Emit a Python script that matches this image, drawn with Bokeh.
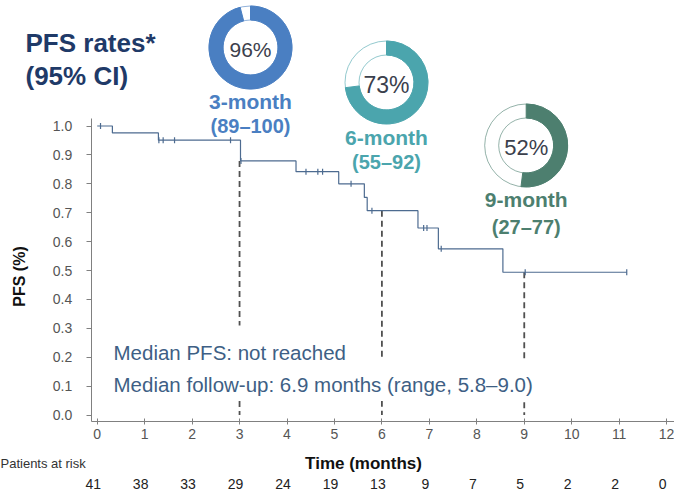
import numpy as np
from bokeh.plotting import figure
from bokeh.models import (ColumnDataSource, LinearAxis, FixedTicker,
                          PrintfTickFormatter, Label, Range1d)
from bokeh.core.properties import value
from bokeh.embed import file_html
from bokeh.resources import INLINE

# ---------------- data ----------------
step_times = [0.0, 0.32, 1.29, 3.02, 4.19, 5.09, 5.63, 5.69, 6.76, 7.19, 8.55]
step_surv = [1.0, 0.976, 0.951, 0.879, 0.842, 0.800, 0.753, 0.707, 0.647, 0.575, 0.494]
last_followup = 11.16
censor_times = [0.07, 1.30, 1.39, 1.63, 2.81, 3.03, 4.40, 4.65, 4.75, 5.35,
                5.79, 6.88, 6.95, 7.25, 9.02, 11.16]

milestone_months = [3, 6, 9]
milestone_curve = [0.879, 0.707, 0.494]
milestone_rate = [96, 73, 52]
milestone_names = ["3-month", "6-month", "9-month"]
milestone_ci = ["(89\u2013100)", "(55\u201392)", "(27\u201377)"]
milestone_colors = ["#4a7fc2", "#4ba5ad", "#4d7f6f"]

x_ticks = list(range(13))
y_ticks = [0.0, 0.1, 0.2, 0.3, 0.4, 0.5, 0.6, 0.7, 0.8, 0.9, 1.0]
at_risk = [41, 38, 33, 29, 24, 19, 13, 9, 7, 5, 2, 2, 0]

# ---------------- layout helpers (canvas px -> data) ----------------
W, H = 674, 492
X0_PX, XS = 96.7, 47.45
Y0_PX, YS = 414.5, 289.0

def tx(px):
    return (px - X0_PX) / XS

def vy(py):
    return (Y0_PX - py) / YS

FONT = value("Liberation Sans")

p = figure(width=W, height=H, output_backend="svg", toolbar_location=None,
           tools="", x_axis_location=None, y_axis_location=None,
           x_range=Range1d(tx(0), tx(W)), y_range=Range1d(vy(H), vy(0)),
           min_border=0, outline_line_color=None)
p.xgrid.visible = False
p.ygrid.visible = False
p.background_fill_color = "white"
p.border_fill_color = "white"

# axes at fixed locations
yaxis = LinearAxis(fixed_location=tx(90.7), bounds=(vy(420.7), vy(118)),
                   ticker=FixedTicker(ticks=y_ticks),
                   formatter=PrintfTickFormatter(format="%.1f"))
yaxis.axis_line_color = "#808080"
yaxis.major_tick_line_color = "#808080"
yaxis.major_tick_in = 0
yaxis.major_tick_out = 5
yaxis.minor_tick_line_color = None
yaxis.major_label_standoff = 14
yaxis.major_label_text_font = "Liberation Sans"
yaxis.major_label_text_font_size = "14px"
yaxis.major_label_text_color = "#555555"
p.add_layout(yaxis, "left")

xaxis = LinearAxis(fixed_location=vy(420.7), bounds=(tx(90.7), tx(674)),
                   ticker=FixedTicker(ticks=x_ticks))
xaxis.axis_line_color = "#808080"
xaxis.major_tick_line_color = "#808080"
xaxis.major_tick_in = 3
xaxis.major_tick_out = 3
xaxis.minor_tick_line_color = None
xaxis.major_label_standoff = 5
xaxis.major_label_text_font = "Liberation Sans"
xaxis.major_label_text_font_size = "14px"
xaxis.major_label_text_color = "#555555"
p.add_layout(xaxis, "below")

# dashed milestone lines
p.segment(x0=milestone_months, y0=milestone_curve, x1=milestone_months,
          y1=[0.0] * len(milestone_months), line_color="#505050",
          line_width=1.8, line_dash="6 4")

# KM curve
curve_color = "#4d6b90"
xs = step_times + [last_followup]
ys = step_surv + [step_surv[-1]]
p.step(xs, ys, mode="after", line_color=curve_color, line_width=1.2)
idx = np.searchsorted(np.array(step_times), np.array(censor_times), side="right") - 1
censor_surv = [step_surv[i] for i in idx]
p.scatter(censor_times, censor_surv, marker="dash", angle=np.pi / 2, size=6,
          line_color=curve_color, line_width=1.2)

# donuts
donut_src = ColumnDataSource(dict(
    x=[tx(250), tx(386), tx(525.7)],
    y=[vy(47), vy(82), vy(145)],
    ly=[vy(101), vy(137), vy(199)],
    cy=[vy(125), vy(161), vy(226)],
    end=[np.pi / 2 - 2 * np.pi * r / 100 for r in milestone_rate],
    color=milestone_colors,
    pct=[f"{r}%" for r in milestone_rate],
    name=milestone_names,
    ci=milestone_ci,
    pct_size=["21px", "23px", "22px"],
))
p.annulus(x="x", y="y", inner_radius=27.5, outer_radius=41.5,
          inner_radius_units="screen", outer_radius_units="screen",
          fill_color="white", line_color="color", line_width=1, line_alpha=0.6,
          source=donut_src)
p.annular_wedge(x="x", y="y", inner_radius=27.5, outer_radius=41.5,
                inner_radius_units="screen", outer_radius_units="screen",
                start_angle=np.pi / 2, end_angle="end", direction="clock",
                fill_color="color", line_color="color", line_width=1,
                source=donut_src)
p.text(x="x", y="y", text="pct", text_font=FONT, text_font_size="pct_size",
       text_color="#3b404c", text_align="center", text_baseline="middle",
       y_offset=2, source=donut_src)
p.text(x="x", y="ly", text="name", text_font=FONT, text_font_size="21px",
       text_font_style="bold", text_color="color", text_align="center",
       text_baseline="middle", source=donut_src)
p.text(x="x", y="cy", text="ci", text_font=FONT, text_font_size="20px",
       text_font_style="bold", text_color="color", text_align="center",
       text_baseline="middle", source=donut_src)

# title
p.text(x=[tx(25), tx(25)], y=[vy(42), vy(75)], text=["PFS rates*", "(95% CI)"],
       text_font=FONT, text_font_size="26px", text_font_style="bold",
       text_color="#1f3a68", text_align="left", text_baseline="alphabetic")

# axis titles
p.text(x=[tx(19)], y=[vy(276)], text=["PFS (%)"], angle=np.pi / 2,
       text_font=FONT, text_font_size="16px", text_font_style="bold",
       text_color="#111111", text_align="center", text_baseline="middle")
p.text(x=[tx(363)], y=[vy(463)], text=["Time (months)"], text_font=FONT,
       text_font_size="17px", text_font_style="bold", text_color="#111111",
       text_align="center", text_baseline="middle")

# patients at risk
p.text(x=[tx(0)], y=[vy(463)], text=["Patients at risk"], text_font=FONT,
       text_font_size="13px", text_color="#333333", text_align="left",
       text_baseline="middle")
p.text(x=x_ticks, y=[vy(483)] * len(x_ticks), text=[str(n) for n in at_risk],
       text_font=FONT, text_font_size="14px", text_color="#222222",
       text_align="center", text_baseline="middle", x_offset=-4)

# median annotations (white boxes interrupt the dashed lines)
PADL = 8
for txt, base, top, bottom in [("Median PFS: not reached", 345, 15, 2),
                               ("Median follow-up: 6.9 months (range, 5.8\u20139.0)", 380, 13, 5)]:
    p.add_layout(Label(x=tx(113 - PADL), y=vy(base), text=txt,
                       text_font="Liberation Sans", text_font_size="20.5px",
                       text_color="#3e5f85", text_baseline="alphabetic",
                       background_fill_color="white",
                       padding=dict(left=PADL, right=PADL, top=top, bottom=bottom)))

open("out.html", "w").write(file_html(p, INLINE))
